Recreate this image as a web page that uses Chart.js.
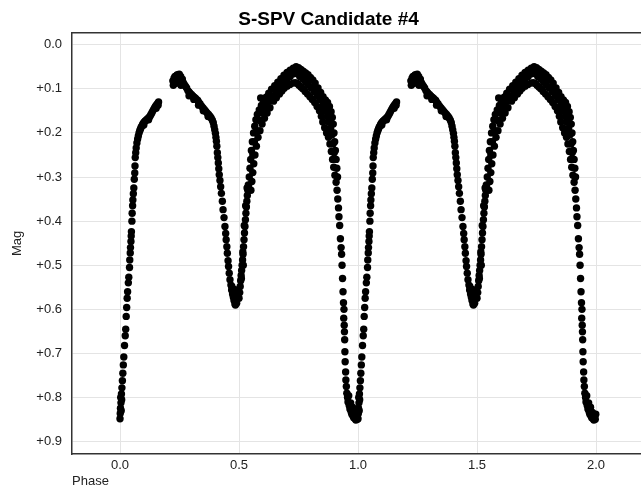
<!DOCTYPE html>
<html><head><meta charset="utf-8">
<script src="https://cdn.jsdelivr.net/npm/chart.js@4/dist/chart.umd.min.js"></script>
<style>html,body{margin:0;padding:0;background:#fff;}canvas{display:block;}</style>
</head><body>
<canvas id="c" width="641" height="489"></canvas>
<script>
// ---- Data (one folded cycle) ----
const phase = [
  // deep minimum -> rise
  0.000,0.001,0.002,0.004,0.003,0.006,0.008,0.010,0.012,0.014,0.016,0.019,0.022,0.024,0.026,0.028,0.005,0.007,
  0.030,0.032,0.035,0.037,0.040,0.041,0.043,0.044,0.046,0.047,0.048,0.050,0.051,0.053,0.054,0.056,0.058,0.060,0.062,0.063,0.064,0.066,0.068,0.071,
  0.074,0.077,0.080,0.083,0.086,0.089,0.092,0.095,0.098,0.102,0.106,0.110,0.114,0.118,0.122,0.126,0.130,0.134,0.138,0.142,0.146,0.150,0.154,0.158,0.162,0.152,0.160,0.120,0.100,
  // first maximum after gap
  0.222,0.224,0.227,0.231,0.233,0.237,0.241,0.245,0.249,0.251,0.255,0.258,0.262,0.256,0.266,0.270,0.275,0.280,0.285,0.290,0.294,0.300,0.306,0.312,0.318,0.326,0.330,0.336,0.342,0.348,0.354,0.360,0.366,0.372,0.378,0.383,0.388,0.392,0.395,0.398,0.401,0.403,0.405,0.407,0.409,0.411,0.413,0.415,0.417,0.290,0.310,0.330,0.350,0.370,
  // descent to secondary minimum
  0.420,0.423,0.426,0.430,0.433,0.437,0.441,0.444,0.446,0.449,0.451,0.454,0.456,0.459,0.462,0.466,0.469,0.473,0.476,0.479,0.483,
  0.470,0.475,0.478,0.481,0.485,0.487,0.490,0.492,0.494,0.497,0.480,0.488,
  0.500,0.503,0.505,0.507,0.509,0.511,0.513,0.515,0.517,0.519,0.521,0.523,0.525,0.527,0.529,0.531,0.533,0.535,0.537,0.539,0.510,0.516,0.522,0.528,0.534,0.518,
  // rise to main maximum
  0.540,0.543,0.546,0.549,0.552,0.556,0.561,0.566,0.571,0.577,0.585,0.594,0.604,0.614,0.625,0.637,0.650,0.663,0.676,0.689,0.702,0.715,0.728,0.740,
  0.550,0.554,0.558,0.562,0.567,0.573,0.580,0.588,0.597,0.607,0.618,0.630,0.645,0.657,0.670,0.680,0.690,0.702,0.714,0.726,0.736,
  0.558,0.565,0.574,0.585,0.598,0.612,0.626,0.640,0.655,0.670,0.685,0.700,0.715,0.730,0.745,0.591,
  // descent from main maximum
  0.750,0.760,0.770,0.780,0.790,0.800,0.810,0.820,0.832,0.843,0.853,0.863,0.872,0.880,0.887,0.892,0.896,0.899,0.902,0.905,0.908,0.911,0.914,
  0.745,0.752,0.760,0.768,0.778,0.788,0.798,0.808,0.818,0.828,0.838,0.846,0.852,0.860,0.868,0.876,0.882,0.888,0.893,0.898,0.903,0.908,
  0.755,0.768,0.780,0.792,0.804,0.816,0.828,0.840,0.852,0.862,0.870,0.878,0.885,0.890,0.895,0.900,
  0.770,0.790,0.815,0.840,0.860,0.875,0.600,0.620,0.640,0.660,0.680,0.700,
  0.912,0.915,0.918,0.920,0.923,0.926,0.929,0.931,0.933,0.935,0.937,0.939,
  0.940,0.941,0.942,0.943,0.944,0.945,0.946,0.948,0.949,0.951,0.953,0.956,0.958,0.961,0.963,0.966,0.969,0.971,0.974,0.977,0.979,0.982,0.985,0.988,0.991,0.994,0.997,0.999
];
const mag = [
  0.848,0.836,0.824,0.812,0.800,0.792,0.778,0.762,0.745,0.726,0.708,0.682,0.660,0.645,0.616,0.596,0.830,0.805,
  0.575,0.560,0.540,0.527,0.505,0.488,0.472,0.460,0.446,0.434,0.424,0.400,0.382,0.365,0.352,0.338,0.325,0.305,0.291,0.275,0.256,0.245,0.234,0.223,
  0.214,0.207,0.200,0.195,0.191,0.187,0.184,0.181,0.178,0.175,0.173,0.171,0.169,0.167,0.165,0.162,0.158,0.154,0.150,0.146,0.142,0.139,0.136,0.133,0.130,0.144,0.137,0.170,0.182,
  0.082,0.092,0.076,0.072,0.088,0.070,0.068,0.070,0.067,0.076,0.072,0.080,0.078,0.092,0.086,0.090,0.094,0.098,0.104,0.107,0.110,0.113,0.116,0.119,0.122,0.126,0.130,0.134,0.139,0.143,0.147,0.151,0.155,0.158,0.162,0.166,0.171,0.177,0.185,0.193,0.201,0.210,0.219,0.230,0.245,0.256,0.268,0.281,0.295,0.116,0.124,0.137,0.150,0.163,
  0.308,0.322,0.337,0.355,0.374,0.392,0.412,0.428,0.442,0.458,0.473,0.490,0.503,0.518,0.533,0.545,0.556,0.565,0.572,0.580,0.588,
  0.548,0.558,0.568,0.576,0.590,0.582,0.586,0.574,0.566,0.556,0.555,0.565,
  0.575,0.562,0.548,0.535,0.523,0.512,0.500,0.488,0.475,0.458,0.442,0.427,0.412,0.397,0.382,0.368,0.355,0.342,0.330,0.318,0.530,0.470,0.410,0.365,0.325,0.500,
  0.320,0.300,0.280,0.260,0.240,0.220,0.200,0.185,0.170,0.158,0.148,0.138,0.128,0.119,0.110,0.101,0.093,0.085,0.077,0.069,0.063,0.058,0.053,0.050,
  0.330,0.310,0.290,0.270,0.250,0.230,0.210,0.195,0.180,0.167,0.155,0.143,0.128,0.120,0.112,0.105,0.099,0.094,0.090,0.087,0.086,
  0.250,0.220,0.195,0.172,0.155,0.140,0.128,0.117,0.106,0.096,0.086,0.078,0.072,0.066,0.062,0.121,
  0.052,0.056,0.060,0.064,0.068,0.074,0.080,0.087,0.098,0.108,0.118,0.125,0.131,0.140,0.152,0.165,0.180,0.200,0.220,0.240,0.260,0.280,0.300,
  0.088,0.092,0.096,0.100,0.106,0.112,0.118,0.124,0.131,0.140,0.150,0.162,0.175,0.188,0.200,0.210,0.225,0.242,0.260,0.278,0.296,0.312,
  0.072,0.078,0.085,0.092,0.098,0.106,0.115,0.125,0.138,0.150,0.163,0.176,0.190,0.205,0.225,0.245,
  0.070,0.080,0.095,0.112,0.135,0.155,0.140,0.130,0.118,0.104,0.092,0.084,
  0.330,0.350,0.370,0.390,0.410,0.440,0.460,0.475,0.500,0.530,0.560,0.585,
  0.620,0.600,0.636,0.651,0.669,0.696,0.719,0.742,0.760,0.775,0.790,0.800,0.810,0.796,0.818,0.826,0.812,0.832,0.838,0.822,0.842,0.846,0.834,0.848,0.851,0.842,0.849,0.838
];
const cycleOffsets = [0, 1];          // the folded cycle is plotted twice
const xTicks = [0, 0.5, 1, 1.5, 2];
const xTickLabels = ['0.0', '0.5', '1.0', '1.5', '2.0'];
const yTicks = [0, 0.1, 0.2, 0.3, 0.4, 0.5, 0.6, 0.7, 0.8, 0.9];
const yTickLabels = ['0.0', '+0.1', '+0.2', '+0.3', '+0.4', '+0.5', '+0.6', '+0.7', '+0.8', '+0.9'];

const points = [];
cycleOffsets.forEach(off => {
  for (let i = 0; i < phase.length; i++) points.push({x: phase[i] + off, y: mag[i]});
});

const FONT = "'Liberation Sans', Arial, sans-serif";

const topBorder = {
  id: 'topBorder',
  beforeDatasetsDraw(chart) {
    const {ctx, chartArea: a} = chart;
    ctx.save();
    ctx.strokeStyle = '#333';
    ctx.lineWidth = 1.5;
    ctx.beginPath();
    ctx.moveTo(a.left, a.top);
    ctx.lineTo(chart.width, a.top);
    ctx.stroke();
    ctx.restore();
  }
};

new Chart(document.getElementById('c'), {
  type: 'scatter',
  data: {
    datasets: [{
      data: points,
      pointRadius: 3.7,
      pointHoverRadius: 3.7,
      pointBackgroundColor: '#000',
      pointBorderColor: '#000',
      pointBorderWidth: 0
    }]
  },
  plugins: [topBorder],
  options: {
    responsive: false,
    animation: false,
    events: [],
    layout: {autoPadding: false, padding: {left: 16, right: 0, top: 0, bottom: 0}},
    plugins: {
      legend: {display: false},
      tooltip: {enabled: false},
      title: {
        display: true,
        text: 'S-SPV Candidate #4',
        color: '#000',
        font: {family: FONT, size: 19, weight: 'bold'},
        padding: {top: 8, bottom: 2}
      }
    },
    scales: {
      x: {
        type: 'linear',
        min: -0.2017,
        max: 2.189,
        afterBuildTicks: s => { s.ticks = xTicks.map(v => ({value: v})); },
        afterFit: s => { s.height = 35; s.paddingRight = 0; s.paddingLeft = 0; },
        ticks: {
          callback: (v, i) => xTickLabels[i],
          color: '#222',
          font: {family: FONT, size: 13},
          padding: 4,
          autoSkip: false,
          maxRotation: 0
        },
        grid: {color: '#e4e4e4', lineWidth: 1, drawTicks: false},
        border: {display: true, color: '#333', width: 1.5},
        title: {
          display: true,
          text: 'Phase',
          align: 'start',
          color: '#222',
          font: {family: FONT, size: 13},
          padding: {top: 0, bottom: 0}
        }
      },
      y: {
        type: 'linear',
        reverse: true,
        min: -0.027,
        max: 0.928,
        afterBuildTicks: s => { s.ticks = yTicks.map(v => ({value: v})); },
        afterFit: s => { s.width = 56; },
        ticks: {
          callback: (v, i) => yTickLabels[i],
          color: '#222',
          font: {family: FONT, size: 13},
          padding: 10
        },
        grid: {color: '#e4e4e4', lineWidth: 1, drawTicks: false},
        border: {display: true, color: '#333', width: 1.5},
        title: {
          display: true,
          text: 'Mag',
          color: '#222',
          font: {family: FONT, size: 13},
          padding: {top: -6, bottom: 0}
        }
      }
    }
  }
});
</script>
</body></html>
